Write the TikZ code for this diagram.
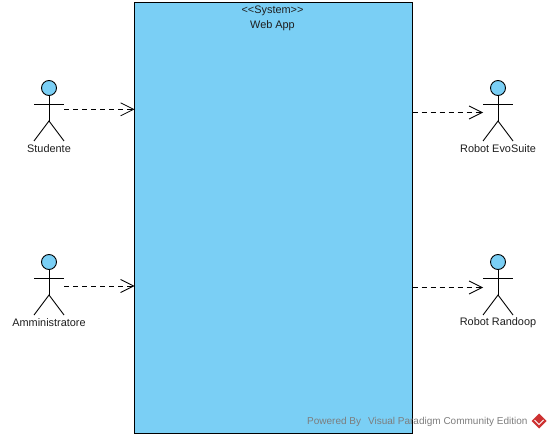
\documentclass[tikz,border=0pt]{standalone}
\usepackage{fontspec}
\setmainfont[Ligatures=NoCommon]{Liberation Sans}
\usetikzlibrary{arrows.meta}
\definecolor{vpblue}{RGB}{122,207,245}
\definecolor{vpink}{RGB}{30,30,30}
\definecolor{wmgray}{RGB}{125,125,125}
\definecolor{vpred}{RGB}{205,50,50}
\tikzset{
  systembox/.style={draw=black,fill=vpblue,line width=1pt,minimum width=278pt,minimum height=431pt,inner sep=0pt,outer sep=0pt},
  caption/.style={font=\fontsize{10.9}{12}\selectfont,text=vpink,inner sep=0pt},
  watermark/.style={font=\fontsize{10}{12}\selectfont,text=wmgray,inner sep=0pt},
  head/.style={draw=black,fill=vpblue,line width=0.9pt,circle,minimum size=15pt,inner sep=0pt,outer sep=0pt},
  limb/.style={draw=black,line width=0.9pt},
  depends/.style={draw=black,line width=0.8pt,dash pattern=on 5pt off 4pt,-{Straight Barb[length=13pt,width=13pt,line width=0.8pt]}},
  pics/stick/.style={code={
    \draw[limb] (-15,16.3) -- (15,16.3);
    \draw[limb] (0,7.5) -- (0,33);
    \draw[limb] (-15,53) -- (0,33) -- (15,53);
    \node[head] at (0,0) {};
  }}
}
\begin{document}
\begin{tikzpicture}[x=1pt,y=-1pt]
\useasboundingbox (0,0) rectangle (551,438);
\node[systembox,anchor=north west] (sys) at (134.5,2.5) {};
\node[caption] (stereo) at (272.5,11) {{<}{<}System{>}{>}};
\node[caption] (title) at (272.5,26) {Web App};

\pic at (49,88) {stick};
\pic at (49,262) {stick};
\pic at (498,88) {stick};
\pic at (498,262) {stick};

\node[caption] (studente) at (49,148.5) {Studente};
\node[caption] (ammin) at (49,323) {Amministratore};
\node[caption] (evosuite) at (498,148.5) {Robot EvoSuite};
\node[caption] (randoop) at (498,323) {Robot Randoop};

\coordinate (a1) at (64,109.3);
\coordinate (a2) at (64,286);
\coordinate (a3) at (483,112.5);
\coordinate (a4) at (483,287.5);

\draw[depends] (a1) -- (a1 -| sys.west);
\draw[depends] (a2) -- (a2 -| sys.west);
\draw[depends] (a3 -| sys.east) -- (a3);
\draw[depends] (a4 -| sys.east) -- (a4);

\node[watermark,anchor=west] (wm) at (307,421.5) {Powered By\hspace{7pt}Visual Paradigm Community Edition};
\fill[vpred] (539,413.5) -- (546.5,421) -- (539,428.5) -- (531.5,421) -- cycle;
\draw[white,line width=1pt] (534.5,420) -- (539,424.5) -- (543.5,420);
\end{tikzpicture}
\end{document}
